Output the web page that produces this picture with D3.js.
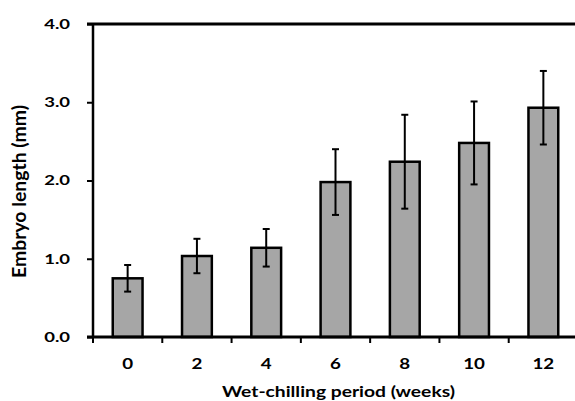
<!DOCTYPE html>
<html>
<head>
<meta charset="utf-8">
<script src="https://cdn.jsdelivr.net/npm/d3@7"></script>
<style>
  body { margin: 0; background: #fff; }
  svg text { font-family: Lato, 'Open Sans', sans-serif; font-weight: bold; fill: #000; }
</style>
</head>
<body>
<div class="chart"></div>
<script>
var weeks = ['0', '2', '4', '6', '8', '10', '12']
var lengths = [0.75, 1.035, 1.14, 1.98, 2.24, 2.48, 2.93]
var errors = [0.17, 0.22, 0.24, 0.42, 0.60, 0.53, 0.47]
var yTicks = [0, 1, 2, 3, 4]

const WIDTH = 575
const HEIGHT = 401
var margin = {top: 24, right: -3, bottom: 64, left: 93}
var w = WIDTH - margin.left - margin.right
var h = HEIGHT - margin.top - margin.bottom

var svg = d3.select('.chart')
  .append('svg')
  .attr('width', WIDTH)
  .attr('height', HEIGHT)
  .append('g')
  .attr('transform', 'translate(' + margin.left + ',' + margin.top + ')')

var x = d3.scaleBand().domain(weeks).range([0, w]).paddingInner(0.57).paddingOuter(0.285)
var xTickScale = d3.scaleBand().domain(weeks).range([0, w])
var y = d3.scaleLinear().domain([0, 4]).range([h, 0])

// widen glyphs a bit, the source picture is stretched sideways
function widen (sel, k) {
  sel.each(function () {
    var len = this.getComputedTextLength()
    d3.select(this).attr('textLength', len * k).attr('lengthAdjust', 'spacingAndGlyphs')
  })
}

// top line at 4.0
svg.append('line')
  .attr('x1', -6).attr('x2', w)
  .attr('y1', y(4)).attr('y2', y(4))
  .attr('stroke', '#000').attr('stroke-width', 3)

// bars
svg.selectAll('rect.bar')
  .data(lengths)
  .enter()
  .append('rect')
  .attr('class', 'bar')
  .attr('x', function (d, i) { return x(weeks[i]) })
  .attr('y', function (d) { return y(d) })
  .attr('width', x.bandwidth())
  .attr('height', function (d) { return y(0) - y(d) })
  .attr('fill', '#a6a6a6')
  .attr('stroke', '#000')
  .attr('stroke-width', 2.5)

// error bars
var eb = svg.selectAll('g.err')
  .data(lengths)
  .enter()
  .append('g')
  .attr('class', 'err')
  .attr('transform', function (d, i) { return 'translate(' + (x(weeks[i]) + x.bandwidth() / 2) + ',0)' })

eb.append('line')
  .attr('y1', function (d, i) { return y(d + errors[i]) })
  .attr('y2', function (d, i) { return y(d - errors[i]) })
  .attr('stroke', '#000').attr('stroke-width', 2)
eb.append('line')
  .attr('x1', -3.5).attr('x2', 3.5)
  .attr('y1', function (d, i) { return y(d + errors[i]) })
  .attr('y2', function (d, i) { return y(d + errors[i]) })
  .attr('stroke', '#000').attr('stroke-width', 2)
eb.append('line')
  .attr('x1', -3.5).attr('x2', 3.5)
  .attr('y1', function (d, i) { return y(d - errors[i]) })
  .attr('y2', function (d, i) { return y(d - errors[i]) })
  .attr('stroke', '#000').attr('stroke-width', 2)

// y axis
var yAxis = svg.append('g')
  .call(d3.axisLeft(y).tickValues(yTicks).tickFormat(d3.format('.1f')).tickSize(6).tickPadding(17))
yAxis.select('.domain').attr('d', 'M0,' + y(4) + 'V' + y(0)).attr('stroke-width', 2.5)
yAxis.selectAll('.tick line').attr('stroke-width', 2)
yAxis.selectAll('text').style('font-size', '14px').call(widen, 1.32)

// x axis
var xAxis = svg.append('g')
  .attr('transform', 'translate(0,' + h + ')')
  .call(d3.axisBottom(x).tickSize(0).tickPadding(21))
xAxis.select('.domain').attr('d', 'M-6,0H' + w).attr('stroke-width', 3)
xAxis.selectAll('text').style('font-size', '15px').call(widen, 1.25)

svg.append('g')
  .attr('transform', 'translate(0,' + h + ')')
  .selectAll('line')
  .data(weeks)
  .enter()
  .append('line')
  .attr('x1', function (d) { return xTickScale(d) })
  .attr('x2', function (d) { return xTickScale(d) })
  .attr('y1', 0).attr('y2', 6)
  .attr('stroke', '#000').attr('stroke-width', 2)

// titles
svg.append('text')
  .attr('x', 245.5)
  .attr('y', h + 60)
  .attr('text-anchor', 'middle')
  .attr('textLength', 233)
  .attr('lengthAdjust', 'spacingAndGlyphs')
  .style('font-size', '16px')
  .text('Wet-chilling period (weeks)')

svg.append('text')
  .attr('transform', 'translate(' + (-67) + ',' + (191.5 - margin.top) + ') rotate(-90)')
  .attr('text-anchor', 'middle')
  .attr('textLength', 173)
  .attr('lengthAdjust', 'spacingAndGlyphs')
  .style('font-size', '18px')
  .text('Embryo length (mm)')
</script>
</body>
</html>
